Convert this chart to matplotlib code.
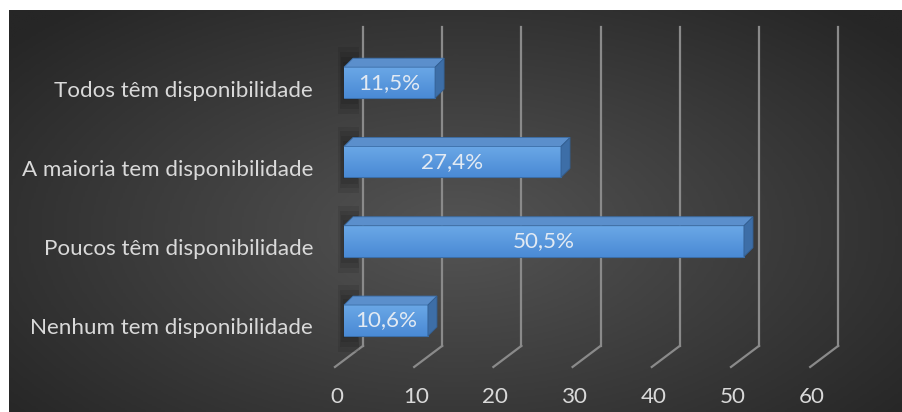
import numpy as np
import matplotlib.pyplot as plt
from matplotlib.patches import Polygon, Rectangle
from matplotlib.colors import LinearSegmentedColormap

categorias = ['Nenhum tem disponibilidade', 'Poucos têm disponibilidade',
              'A maioria tem disponibilidade', 'Todos têm disponibilidade']
valores = [10.6, 50.5, 27.4, 11.5]
rotulos = ['10,6%', '50,5%', '27,4%', '11,5%']
ticks = [0, 10, 20, 30, 40, 50, 60]

plt.rcParams['font.family'] = ['Lato', 'DejaVu Sans']
fs = 16.1
txt = '#d9d9d9'
grid = '#8a8a8a'

fig = plt.figure(figsize=(9.03, 4.12), dpi=100)
fig.patch.set_facecolor('white')

# fundo escuro com gradiente radial
bg = fig.add_axes([9/903, 0, 894/903, 402/412])
yy, xx = np.mgrid[0:1:200j, 0:1:400j]
d = np.sqrt(((xx-0.5)/0.65)**2 + ((yy-0.55)/0.75)**2)
cm_bg = LinearSegmentedColormap.from_list('bg', ['#545454', '#262626'])
bg.imshow(d, cmap=cm_bg, vmin=0, vmax=1, aspect='auto', origin='upper')
bg.axis('off')

ax = fig.add_axes([0, 0, 1, 1])
ax.patch.set_alpha(0)
ax.axis('off')

# pseudo 3d
dv = 1.14     # profundidade da barra (x)
dc = 0.113    # profundidade da barra (y)
wall = 2.4    # deslocamento da parede de fundo
front = -1.14 # frente do piso
y_back, y_front, y_top = -0.32, -0.586, 3.70

for t in ticks:
    ax.plot([t+wall, t+wall], [y_back, y_top], color=grid, lw=1.6, zorder=1)
    ax.plot([front+t, t+wall], [y_front, y_back], color=grid, lw=1.6, zorder=1)
    ax.text(t-0.9, -0.96, str(t), ha='center', va='center', color=txt, fontsize=fs)

y = np.arange(len(categorias))
h = 0.39
cm_bar = LinearSegmentedColormap.from_list('bar', ['#6aa7e6', '#4a8ad5'])

for i in range(len(valores)):
    v = valores[i]
    # sombra
    for k in range(8):
        s = k*0.06
        ax.add_patch(Rectangle((-0.7+s*3, y[i]-h/2-0.2+s), 2.6-s*4, h+0.45-2*s,
                               color='black', alpha=0.09, lw=0, zorder=2))
    bars = ax.barh(y[i], v, height=h, left=0, color='#5596dc', edgecolor='#3b6ea8',
                   lw=0.8, zorder=3)
    p = bars[0]
    im = ax.imshow(np.linspace(0, 1, 50).reshape(-1, 1), cmap=cm_bar, aspect='auto',
                   extent=[0, v, y[i]-h/2, y[i]+h/2], origin='upper', zorder=3.5)
    im.set_clip_path(p)
    top = Polygon([(0, y[i]+h/2), (v, y[i]+h/2), (v+dv, y[i]+h/2+dc), (dv, y[i]+h/2+dc)],
                  closed=True, facecolor='#5b8fcc', edgecolor='#3b6ea8', lw=0.6, zorder=4)
    side = Polygon([(v, y[i]-h/2), (v+dv, y[i]-h/2+dc), (v+dv, y[i]+h/2+dc), (v, y[i]+h/2)],
                   closed=True, facecolor='#3d6ea7', edgecolor='#335f92', lw=0.6, zorder=4)
    ax.add_patch(top)
    ax.add_patch(side)
    ax.text(v/2, y[i], rotulos[i], ha='center', va='center', color='#e2eaf3',
            fontsize=fs, zorder=6)
    ax.text(-3.9, y[i]-0.1, categorias[i], ha='right', va='center', color=txt, fontsize=fs)

ax.set_xlim(-43.43, 70.58)
ax.set_ylim(-1.154, 4.042)

fig.savefig('out.png', dpi=100)
